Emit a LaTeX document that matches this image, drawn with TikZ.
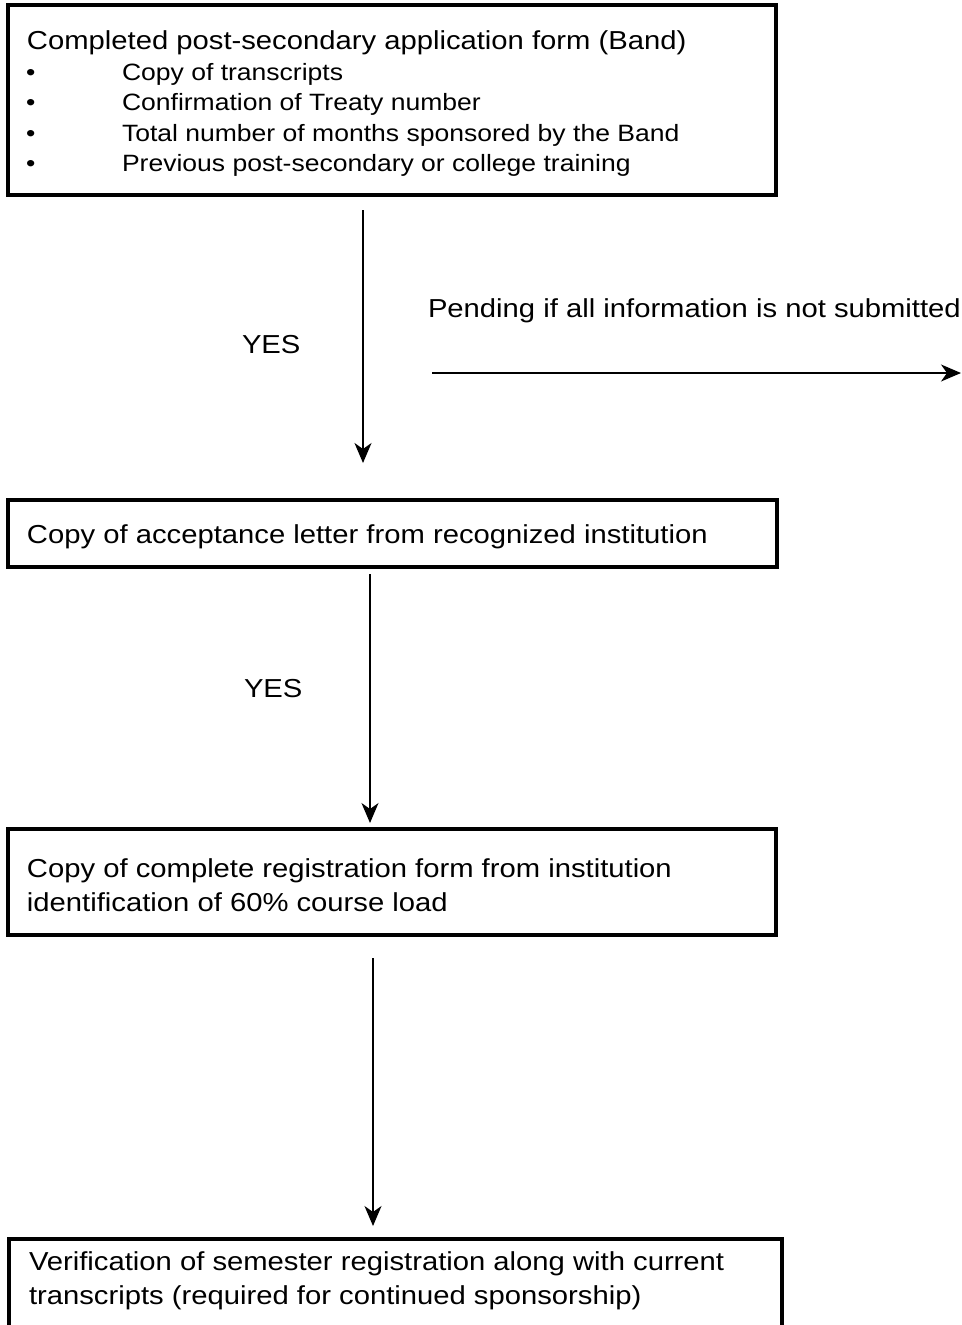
\documentclass[tikz,border=0pt]{standalone}
\usepackage{fontspec}
\setmainfont{Liberation Sans}[FakeStretch=1.124]
\usetikzlibrary{arrows.meta}
\begin{document}
\begin{tikzpicture}[x=1pt,y=-1pt,
  box/.style={draw=black, line width=3.2pt, inner sep=0pt, outer sep=0pt, anchor=north west},
  txt/.style={anchor=base west, inner sep=0pt, outer sep=0pt, font=\fontsize{26}{30}\selectfont},
  itm/.style={txt, font=\fontsize{23.6}{30}\selectfont},
  arr/.style={line width=1.3pt, -{Stealth[length=20pt,width=17pt,inset=6pt]}}]
\useasboundingbox (0,0) rectangle (961,1325);
\clip (0,0) rectangle (961,1325);
% boxes
\node[box, minimum width=768pt, minimum height=190pt] (b1) at (8,5) {};
\node[box, minimum width=769pt, minimum height=67pt] (b2) at (8,500) {};
\node[box, minimum width=768pt, minimum height=106pt] (b3) at (8,829) {};
\node[box, minimum width=773pt, minimum height=120pt] (b4) at (9,1239) {};
% box 1 text
\node[txt] (t1) at (27,49) {Completed post-secondary application form (Band)};
\node[itm] (u1) at (26,80) {•};
\node[itm] (u2) at (26,110) {•};
\node[itm] (u3) at (26,141) {•};
\node[itm] (u4) at (26,171) {•};
\node[itm] (i1) at (122,80) {Copy of transcripts};
\node[itm] (i2) at (122,110) {Confirmation of Treaty number};
\node[itm] (i3) at (122,141) {Total number of months sponsored by the Band};
\node[itm] (i4) at (122,171) {Previous post-secondary or college training};
% other box texts
\node[txt] (t2) at (27,543) {Copy of acceptance letter from recognized institution};
\node[txt] (t3a) at (27,877) {Copy of complete registration form from institution};
\node[txt] (t3b) at (27,911) {identification of 60\% course load};
\node[txt] (t4a) at (29,1270) {Verification of semester registration along with current};
\node[txt] (t4b) at (29,1304) {transcripts (required for continued sponsorship)};
% labels
\node[txt] (y1) at (242,353) {YES};
\node[txt] (y2) at (244,697) {YES};
\node[txt] (p1) at (428,317) {Pending if all information is not submitted};
% arrows
\coordinate (a1s) at (363,210); \coordinate (a1e) at (363,463);
\coordinate (a2s) at (370,574); \coordinate (a2e) at (370,823);
\coordinate (a3s) at (373,958); \coordinate (a3e) at (373,1226);
\coordinate (hs) at (432,373); \coordinate (he) at (961,373);
\draw[arr] (a1s) -- (a1e);
\draw[arr] (a2s) -- (a2e);
\draw[arr] (a3s) -- (a3e);
\draw[arr] (hs) -- (he);
\end{tikzpicture}
\end{document}
